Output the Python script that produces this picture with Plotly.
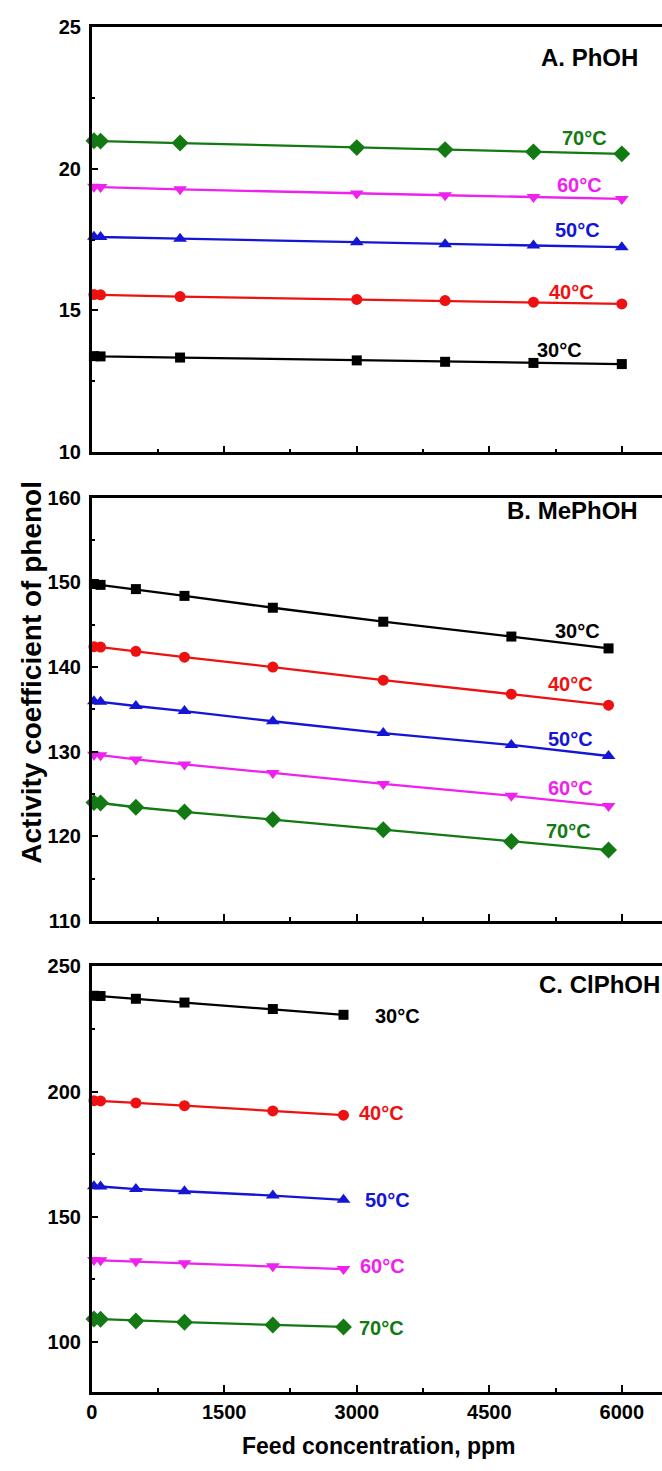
import plotly.graph_objects as go

# ---------------- data ----------------
temps = ["30°C", "40°C", "50°C", "60°C", "70°C"]

A_x = [25, 100, 1000, 3000, 4000, 5000, 6000]
A_30 = [13.39, 13.38, 13.34, 13.24, 13.19, 13.15, 13.11]
A_40 = [15.56, 15.55, 15.49, 15.39, 15.35, 15.29, 15.23]
A_50 = [17.60, 17.59, 17.53, 17.40, 17.33, 17.29, 17.23]
A_60 = [19.36, 19.35, 19.27, 19.12, 19.06, 19.00, 18.93]
A_70 = [20.98, 20.97, 20.90, 20.74, 20.67, 20.59, 20.52]

B_x = [25, 100, 500, 1050, 2050, 3300, 4750, 5850]
B_30 = [149.8, 149.7, 149.2, 148.4, 147.0, 145.35, 143.6, 142.2]
B_40 = [142.4, 142.36, 141.86, 141.16, 140.0, 138.45, 136.8, 135.5]
B_50 = [135.95, 135.9, 135.4, 134.8, 133.6, 132.2, 130.8, 129.5]
B_60 = [129.65, 129.6, 129.1, 128.5, 127.5, 126.2, 124.8, 123.6]
B_70 = [124.0, 123.95, 123.45, 122.9, 122.0, 120.8, 119.4, 118.4]

C_x = [25, 100, 500, 1050, 2050, 2850]
C_30 = [238.3, 238.2, 237.1, 235.6, 233.0, 230.7]
C_40 = [196.4, 196.3, 195.5, 194.4, 192.3, 190.6]
C_50 = [162.2, 162.1, 161.1, 160.2, 158.5, 156.8]
C_60 = [132.7, 132.6, 132.2, 131.4, 130.2, 129.1]
C_70 = [109.2, 109.1, 108.4, 107.9, 106.8, 106.0]

panel_titles = ["A. PhOH", "B. MePhOH", "C. ClPhOH"]
x_title = "Feed concentration, ppm"
y_title = "Activity coefficient of phenol"

# ---------------- styles ----------------
colors = ["#000000", "#ee1111", "#1515d5", "#ee22ee", "#137a13"]
symbols = ["square", "circle", "triangle-up", "triangle-down", "diamond"]
msizes = [10, 11, 12, 12, 13]
FONT = "Liberation Sans, Arial, sans-serif"

# label positions (data coords) per panel
A_lab = [(5290, 13.61), (5430, 15.66), (5500, 17.85), (5526, 19.41), (5578, 21.08)]
B_lab = [(5493, 144.3), (5422, 138.0), (5422, 131.5), (5422, 125.7), (5399, 120.7)]
C_lab = [(3457, 230.3), (3282, 191.5), (3353, 156.8), (3296, 130.4), (3282, 105.4)]

W, H = 662, 1471
x0 = 86.5 / W
xmax = 6455

def ydom(top_px, bot_px):
    return [1 - bot_px / H, 1 - top_px / H]

fig = go.Figure()

panels = [
    ("x", "y", A_x, [A_30, A_40, A_50, A_60, A_70], A_lab),
    ("x2", "y2", B_x, [B_30, B_40, B_50, B_60, B_70], B_lab),
    ("x3", "y3", C_x, [C_30, C_40, C_50, C_60, C_70], C_lab),
]

annotations = []
for xa, ya, xs, series, labs in panels:
    for i, ys in enumerate(series):
        fig.add_trace(go.Scatter(
            x=xs, y=ys, xaxis=xa, yaxis=ya, mode="lines+markers",
            line=dict(color=colors[i], width=2.3),
            marker=dict(symbol=symbols[i], size=msizes[i], color=colors[i]),
            showlegend=False, cliponaxis=False))
        lx, ly = labs[i]
        annotations.append(dict(x=lx, y=ly, xref=xa, yref=ya, text=temps[i],
                                showarrow=False, xanchor="center", yanchor="middle",
                                font=dict(family=FONT, size=20, color=colors[i], weight="bold")))

# panel titles
annotations.append(dict(x=639.5 / W, y=1 - 47 / H, xref="paper", yref="paper", text=panel_titles[0],
                        showarrow=False, xanchor="right", yanchor="middle",
                        font=dict(family=FONT, size=24, color="black", weight="bold")))
annotations.append(dict(x=639.5 / W, y=1 - 507 / H, xref="paper", yref="paper", text=panel_titles[1],
                        showarrow=False, xanchor="right", yanchor="middle",
                        font=dict(family=FONT, size=24, color="black", weight="bold")))
annotations.append(dict(x=662 / W, y=1 - 988 / H, xref="paper", yref="paper", text=panel_titles[2],
                        showarrow=False, xanchor="right", yanchor="middle",
                        font=dict(family=FONT, size=24, color="black", weight="bold")))
# axis titles
annotations.append(dict(x=376 / W, y=1 - 1457 / H, xref="paper", yref="paper", text=x_title,
                        showarrow=False, xanchor="center", yanchor="middle",
                        font=dict(family=FONT, size=23, color="black", weight="bold")))
annotations.append(dict(x=26 / W, y=1 - 671 / H, xref="paper", yref="paper", text=y_title,
                        showarrow=False, xanchor="center", yanchor="middle", textangle=-90,
                        font=dict(family=FONT, size=28, color="black", weight="bold")))

axis_common = dict(showline=True, linecolor="black", linewidth=2.5, ticks="inside",
                   ticklen=7, tickwidth=2, tickcolor="black", showgrid=False, zeroline=False,
                   tickfont=dict(family=FONT, size=20, color="black", weight="bold"))

def xaxis(show_labels):
    return dict(axis_common, range=[0, xmax], dtick=1500, tick0=0, mirror=True,
                showticklabels=show_labels, domain=[x0, 1],
                minor=dict(dtick=750, tick0=0, ticks="inside", ticklen=4, tickwidth=2, tickcolor="black"))

def yaxis(rng, dt, dom, anchor):
    return dict(axis_common, range=rng, dtick=dt, tick0=0, domain=dom, anchor=anchor,
                ticklabelstandoff=4,
                minor=dict(dtick=dt / 2, tick0=0, ticks="inside", ticklen=4, tickwidth=2, tickcolor="black"))

fig.update_layout(
    width=W, height=H, margin=dict(l=0, r=0, t=0, b=0),
    plot_bgcolor="white", paper_bgcolor="white",
    xaxis=dict(xaxis(False), anchor="y"),
    xaxis2=dict(xaxis(False), anchor="y2"),
    xaxis3=dict(xaxis(True), anchor="y3"),
    yaxis=yaxis([10, 25], 5, ydom(16, 448), "x"),
    yaxis2=yaxis([110, 160], 10, ydom(494, 924), "x2"),
    yaxis3=yaxis([80, 250], 50, ydom(970, 1402), "x3"),
    annotations=annotations,
)

fig.write_html("out.html")
